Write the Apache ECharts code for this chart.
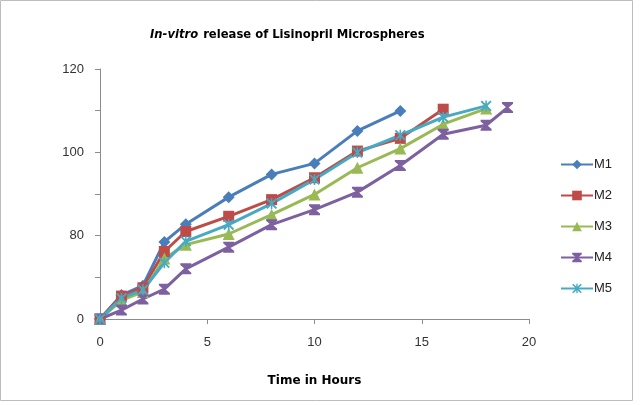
<!DOCTYPE html>
<html>
<head>
<meta charset="utf-8">
<script src="https://cdn.jsdelivr.net/npm/echarts@6/dist/echarts.min.js"></script>
<style>
  html, body { margin: 0; padding: 0; background: #fff; }
  #container { width: 642px; height: 405px; }
</style>
</head>
<body>
<div id="container"></div>
<script>
// hours and release values (axis units)
var hours = [0, 1, 2, 3, 4, 6, 8, 10, 12, 14, 16, 18, 19];
var m1 = [0, 11.5, 16, 37, 45.5, 58.5, 69.4, 74.7, 90.3, 99.9];
var m2 = [0, 11, 15, 32.4, 42, 49.3, 57.3, 67.8, 80.6, 86.7, 100.7];
var m3 = [0, 9, 13, 29, 35.7, 40.8, 50.1, 59.8, 72.6, 81.8, 93.5, 101];
var m4 = [0, 4.3, 9.6, 14.3, 24.1, 34.5, 45.3, 52.5, 60.9, 73.7, 88.7, 93, 101.5];
var m5 = [0, 10, 14, 27, 37.3, 45.3, 55.4, 67, 79.9, 88.2, 96.9, 102.3];

// y tick labels as printed on the chart
var yTickValues = [0, 40, 80, 120];
var yTickLabels = ['0', '80', '100', '120'];

var dom = document.getElementById("container");
var myChart = echarts.init(dom);

function pairs(vals) {
    var res = [];
    for (var i = 0; i < vals.length; i++) {
        res.push([hours[i], vals[i]]);
    }
    return res;
}

var hourglass = 'path://M0,0L10,0L10,1.5L6,5L10,8.5L10,10L0,10L0,8.5L4,5L0,1.5Z';
var asterisk = 'path://M0,1.2L1.2,0L5,3.8L8.8,0L10,1.2L6.2,5L10,8.8L8.8,10L5,6.2L1.2,10L0,8.8L3.8,5Z M4.3,0L5.7,0L5.7,10L4.3,10Z';

function makeSeries(name, vals, color, symbol, size) {
    return {
        name: name,
        type: 'line',
        data: pairs(vals),
        symbol: symbol,
        symbolSize: size,
        lineStyle: { color: color, width: 3 },
        itemStyle: { color: color },
        emphasis: { disabled: true },
        z: 2
    };
}

var option = {
    animation: false,
    title: {
        text: '{i|In-vitro} {b|release of Lisinopril Microspheres}',
        left: 145,
        top: 21,
        textStyle: {
            rich: {
                i: { fontFamily: 'DejaVu Sans', fontSize: 11.6, fontWeight: 'bold', fontStyle: 'italic', color: '#000' },
                b: { fontFamily: 'DejaVu Sans', fontSize: 11.6, fontWeight: 'bold', color: '#000' }
            }
        }
    },
    legend: {
        orient: 'vertical',
        left: 555,
        top: 153,
        itemGap: 18,
        itemWidth: 32,
        itemHeight: 12,
        data: ['M1', 'M2', 'M3', 'M4', 'M5'],
        textStyle: { fontFamily: 'Liberation Sans', fontSize: 13, color: '#222', padding: [0, 0, 0, -4] }
    },
    grid: { left: 100, right: 113, top: 69, bottom: 86, containLabel: false },
    xAxis: {
        type: 'value',
        min: 0,
        max: 20,
        interval: 5,
        name: 'Time in Hours',
        nameLocation: 'middle',
        nameGap: 56,
        nameTextStyle: { fontFamily: 'DejaVu Sans', fontSize: 12, fontWeight: 'bold', color: '#000' },
        axisLine: { lineStyle: { color: '#8c8c8c', width: 1 } },
        axisTick: { show: true, inside: false, length: 5, lineStyle: { color: '#8c8c8c' } },
        axisLabel: { margin: 17, fontFamily: 'Liberation Sans', fontSize: 13, color: '#333' },
        splitLine: { show: false }
    },
    yAxis: {
        type: 'value',
        min: 0,
        max: 120,
        interval: 20,
        axisLine: { show: true, lineStyle: { color: '#8c8c8c', width: 1 } },
        axisTick: { show: true, length: 5, lineStyle: { color: '#8c8c8c' } },
        axisLabel: {
            margin: 16,
            fontFamily: 'Liberation Sans',
            fontSize: 13,
            color: '#333',
            formatter: function (value) {
                var idx = yTickValues.indexOf(value);
                return idx >= 0 ? yTickLabels[idx] : '';
            }
        },
        splitLine: { show: false }
    },
    graphic: [{
        type: 'rect',
        shape: { x: 0.5, y: 0.5, width: 632, height: 400 },
        style: { fill: 'none', stroke: '#bdbdbd', lineWidth: 1 },
        silent: true
    }],
    series: [
        makeSeries('M1', m1, '#4a7ebb', 'diamond', 12),
        makeSeries('M2', m2, '#be4b48', 'rect', 11),
        makeSeries('M3', m3, '#98b954', 'triangle', 12),
        makeSeries('M4', m4, '#7d60a0', hourglass, 11),
        makeSeries('M5', m5, '#46aac5', asterisk, 11)
    ]
};

if (option && typeof option === "object") {
    myChart.setOption(option, true);
}
</script>
</body>
</html>
